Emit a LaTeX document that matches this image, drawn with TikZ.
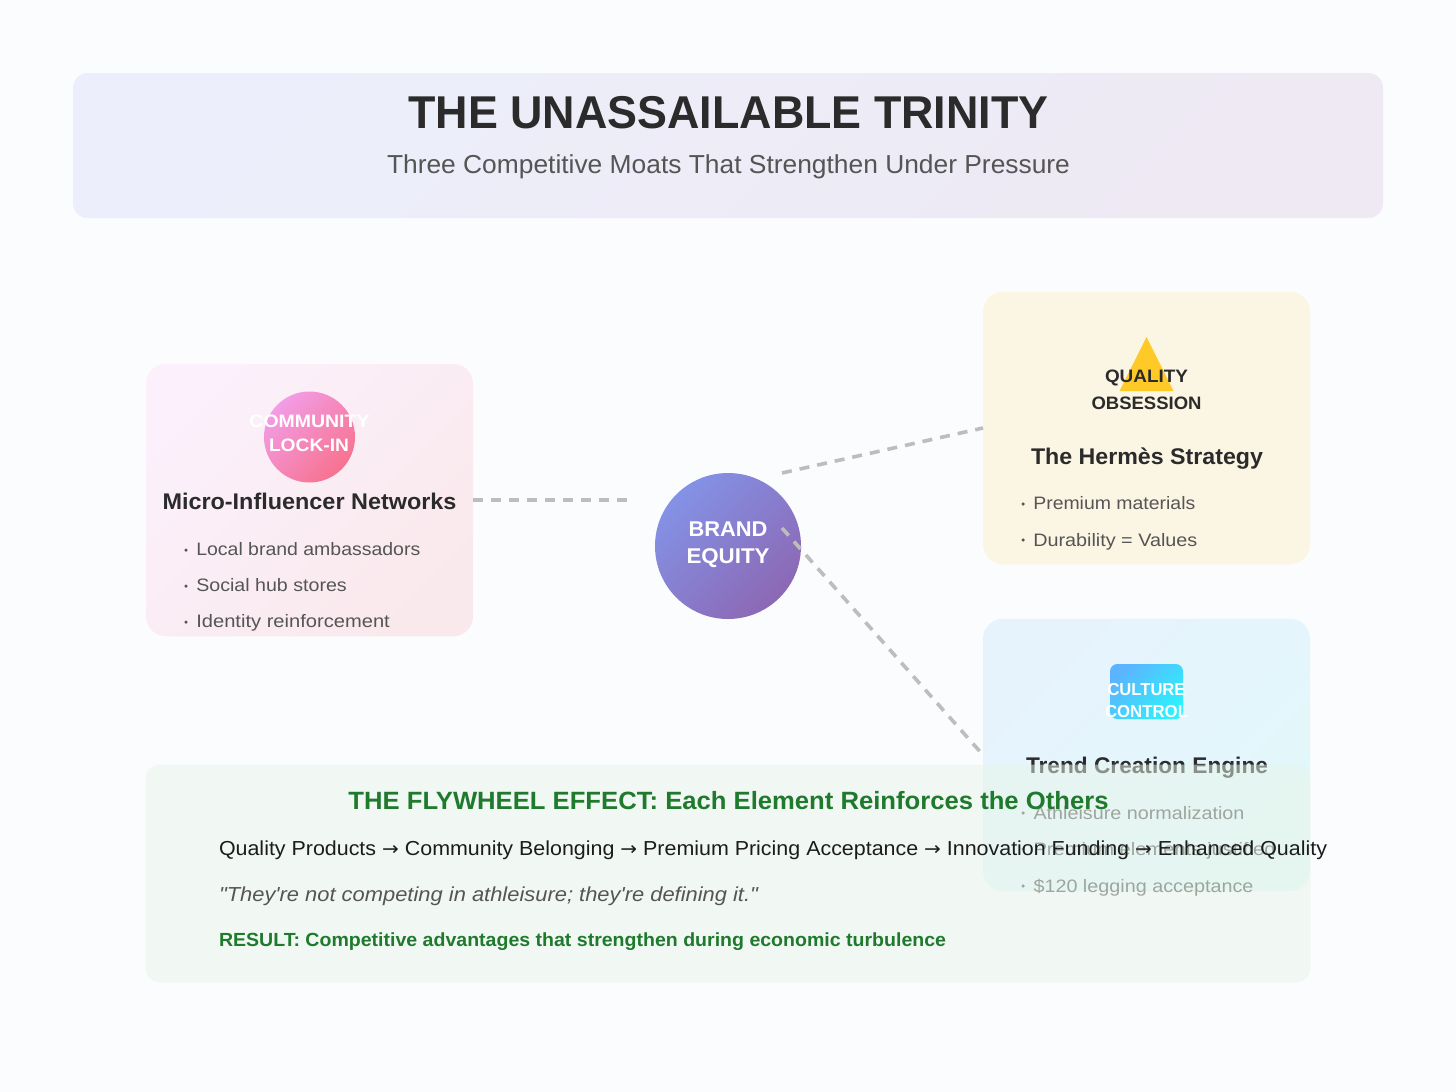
\documentclass[tikz,border=0pt]{standalone}
\usepackage{fontspec}
\usepackage{graphicx}
\setmainfont{Liberation Sans}[Ligatures=TeXOff]
\newfontfamily\arrowfont{DejaVu Sans}
\definecolor{pagebg}{HTML}{FBFCFE}
\definecolor{dark}{HTML}{2B2B2B}
\definecolor{midgray}{HTML}{555555}
\definecolor{flygreen}{HTML}{1F7A2E}
\definecolor{flowblack}{HTML}{1C1C1C}
\definecolor{dashgray}{HTML}{BDBDBD}
\definecolor{tpA}{HTML}{ECEFFB}\definecolor{tpB}{HTML}{EEE9F3}
\definecolor{pkA}{HTML}{FBF0FB}\definecolor{pkB}{HTML}{FAE9EC}
\definecolor{ylA}{HTML}{FBF5E3}
\definecolor{blA}{HTML}{E6F3FD}\definecolor{blB}{HTML}{E2F8FB}
\definecolor{hbA}{HTML}{8492E6}\definecolor{hbB}{HTML}{8C68B4}
\definecolor{ccA}{HTML}{F29DE6}\definecolor{ccB}{HTML}{F7728E}
\definecolor{rcA}{HTML}{5BB4FE}\definecolor{rcB}{HTML}{2EF0FE}
\definecolor{trY}{HTML}{FFCA28}
\definecolor{grO}{HTML}{E8F5E9}
\newlength{\pxu}\setlength{\pxu}{0.75pt}
\newcommand{\sz}[1]{\fontsize{#1pt}{#1pt}\selectfont}
\newcommand{\fitw}[2]{\resizebox{#1\pxu}{\height}{#2}}
\newcommand{\arr}{{\arrowfont\fontsize{14.2pt}{14.2pt}\selectfont\raisebox{0.2pt}{→}}}
\tikzset{
  x=0.75pt,y=-0.75pt,
  panelbox/.style={rectangle,inner sep=0pt,outer sep=0pt,rounded corners=15pt,minimum width=327\pxu,minimum height=272.5\pxu},
  txt/.style={inner sep=0pt,outer sep=0pt,anchor=base},
  ltxt/.style={inner sep=0pt,outer sep=0pt,anchor=base west},
  wlabel/.style={txt,text=white,font=\bfseries\sz{13.5}},
  dlabel/.style={txt,text=dark,font=\bfseries\sz{13.5}},
  bul/.style={ltxt,text=midgray,font=\sz{13.5}},
  bdot/.style={circle,fill=midgray,inner sep=0pt,minimum size=3.5\pxu},
  head/.style={txt,text=dark,font=\bfseries\sz{17}},
  conn/.style={draw=dashgray,line width=3.6\pxu,dash pattern=on 10\pxu off 8\pxu},
}
\begin{document}
\begin{tikzpicture}
\useasboundingbox (0,0) rectangle (1456,1092);
\fill[pagebg] (0,0) rectangle (1456,1092);
% title panel
\node[rectangle,inner sep=0pt,rounded corners=11pt,minimum width=1310\pxu,minimum height=145\pxu,left color=tpA,right color=tpB,shading angle=45] (tp) at (728,145.5) {};
\node[txt,text=dark,font=\bfseries\sz{34.5}] (ttl) at (728.5,128) {\fitw{640}{THE UNASSAILABLE TRINITY}};
\node[txt,text=midgray,font=\sz{19.5}] (sub) at (728.5,173) {\fitw{683}{Three Competitive Moats That Strengthen Under Pressure}};
% pink panel
\node[panelbox,left color=pkA,right color=pkB,shading angle=45] (pink) at (309.5,500) {};
\node[circle,inner sep=0pt,minimum size=91\pxu,left color=ccA,right color=ccB,shading angle=45] (cc) at (309.5,437) {};
\node[wlabel] (c1) at (309.5,427.3) {\fitw{120}{COMMUNITY}};
\node[wlabel] (c2) at (309,451.3) {\fitw{80}{LOCK-IN}};
\node[head] (h1) at (309.5,509.3) {\fitw{294}{Micro-Influencer Networks}};
\node[bdot] (d11) at (186,550) {};
\node[bul] (b11) at (196.3,555) {\fitw{224}{Local brand ambassadors}};
\node[bdot] (d12) at (186,586) {};
\node[bul] (b12) at (196.3,591.2) {\fitw{150.5}{Social hub stores}};
\node[bdot] (d13) at (186,622) {};
\node[bul] (b13) at (196.3,627.5) {\fitw{193.5}{Identity reinforcement}};
% yellow panel
\node[panelbox,fill=ylA] (yel) at (1146.5,428) {};
\fill[trY] (1146.5,337) -- (1173.5,391) -- (1119.5,391) -- cycle;
\node[dlabel] (q1) at (1146.5,382) {\fitw{83}{QUALITY}};
\node[dlabel] (q2) at (1146.5,409) {\fitw{110}{OBSESSION}};
\node[head] (h2) at (1147,464) {\fitw{232}{The Hermès Strategy}};
\node[bdot] (d21) at (1023,504) {};
\node[bul] (b21) at (1033.3,509.5) {\fitw{162}{Premium materials}};
\node[bdot] (d22) at (1023,540) {};
\node[bul] (b22) at (1033.3,546) {\fitw{164}{Durability = Values}};
% blue panel
\node[panelbox,left color=blA,right color=blB,shading angle=45] (blu) at (1146.5,755) {};
\node[rectangle,inner sep=0pt,rounded corners=5.5pt,minimum width=73\pxu,minimum height=55\pxu,left color=rcA,right color=rcB,shading angle=45] (rc) at (1146.5,691.5) {};
\node[wlabel,font=\bfseries\sz{13}] (k1) at (1146.5,695.5) {\fitw{78}{CULTURE}};
\node[wlabel,font=\bfseries\sz{13}] (k2) at (1146.5,717) {\fitw{83}{CONTROL}};
\node[head] (h3) at (1147,773.5) {\fitw{242}{Trend Creation Engine}};
\node[bdot] (d31) at (1023,813) {};
\node[bul] (b31) at (1033.5,819) {\fitw{211}{Athleisure normalization}};
\node[bdot] (d32) at (1023,849) {};
\node[bul] (b32) at (1033.5,855.5) {\fitw{242}{Premium elements justified}};
\node[bdot] (d33) at (1023,886) {};
\node[bul] (b33) at (1033.5,892) {\fitw{220}{\$120 legging acceptance}};
% hub
\node[circle,inner sep=0pt,outer sep=0pt,minimum size=146\pxu,left color=hbA,right color=hbB,shading angle=45] (hub) at (728,546) {};
\node[wlabel,font=\bfseries\sz{16}] (e1) at (728,536.6) {\fitw{79}{BRAND}};
\node[wlabel,font=\bfseries\sz{16}] (e2) at (728,563.8) {\fitw{83}{EQUITY}};
% connectors
\coordinate (hubL) at (628,500);
\coordinate (hubT) at (782,473);
\coordinate (hubB) at (782,528);
\draw[conn] (pink.east) -- (hubL);
\draw[conn] (hubT) -- (yel.west);
\draw[conn] (hubB) -- (blu.west);
% flywheel panel (translucent, over the blue panel)
\node[rectangle,inner sep=0pt,rounded corners=11pt,minimum width=1165\pxu,minimum height=218\pxu,fill=grO,fill opacity=0.5] (gr) at (728,873.5) {};
\node[txt,text=flygreen,font=\bfseries\sz{18.75}] (g1) at (728.5,809.3) {\fitw{760}{THE FLYWHEEL EFFECT: Each Element Reinforces the Others}};
\node[ltxt,text=flowblack,font=\sz{15.2}] (g2) at (219,855.3) {\fitw{1108}{Quality Products \arr{} Community Belonging \arr{} Premium Pricing Acceptance \arr{} Innovation Funding \arr{} Enhanced Quality}};
\node[ltxt,text=midgray,font=\itshape\sz{15.2}] (g3) at (219,901.3) {\fitw{539}{"They're not competing in athleisure; they're defining it."}};
\node[ltxt,text=flygreen,font=\bfseries\sz{14.25}] (g4) at (219,946.6) {\fitw{727}{RESULT: Competitive advantages that strengthen during economic turbulence}};
\end{tikzpicture}
\end{document}
